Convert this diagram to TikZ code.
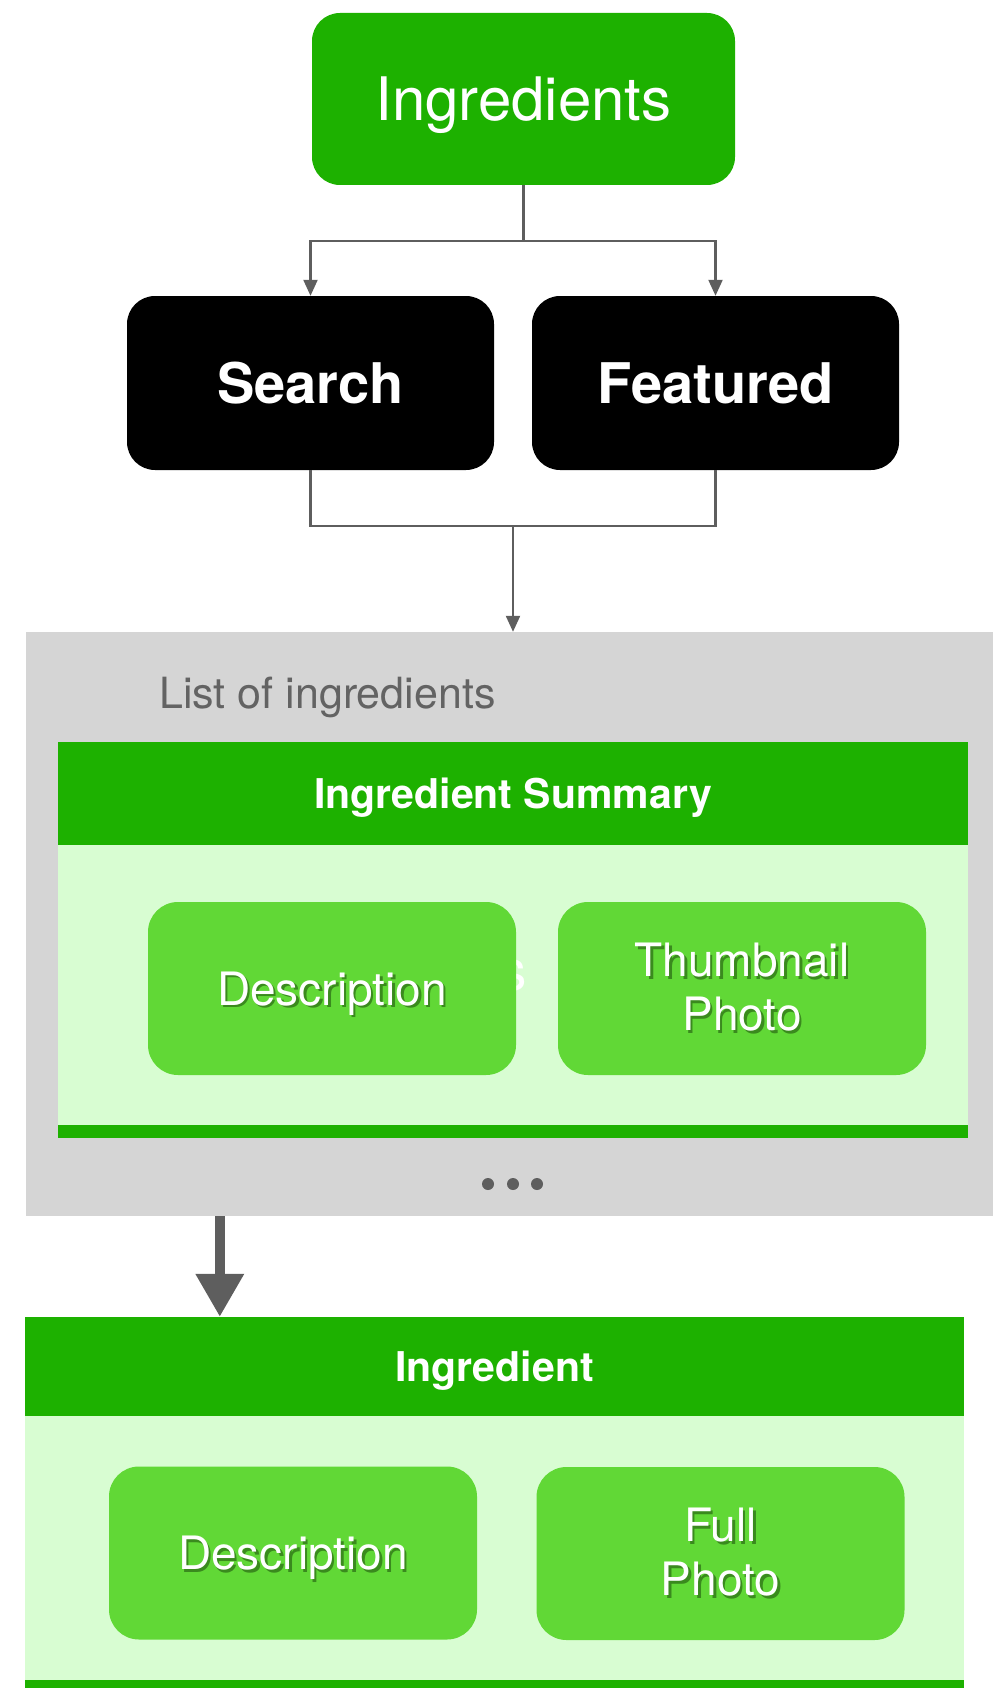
\documentclass[tikz,border=0pt]{standalone}
\usepackage{fontspec}
\setmainfont{TeX Gyre Heros}
\usetikzlibrary{arrows.meta,calc}
\definecolor{topgreen}{HTML}{1DB100}
\definecolor{lightgreen}{HTML}{D8FDD2}
\definecolor{boxgreen}{HTML}{61D836}
\definecolor{panelgrey}{HTML}{D5D5D5}
\definecolor{linegrey}{HTML}{5E5E5E}
\definecolor{labelgrey}{HTML}{636363}
\definecolor{shadowgreen}{HTML}{3A8A1E}
\newcommand{\fsz}[2]{\fontsize{#1}{#2}\selectfont}
\newcommand{\shd}[1]{\makebox[0pt][l]{\raisebox{-2.5pt}{\hspace{2.5pt}\textcolor{shadowgreen}{#1}}}#1}
\tikzset{
  topbox/.style={rectangle, rounded corners=28pt, fill=topgreen, text=white, inner sep=0pt,
    minimum width=423pt, minimum height=172pt, font=\fsz{60}{60}, text depth=0pt},
  blackbox/.style={rectangle, rounded corners=28pt, fill=black, text=white, inner sep=0pt,
    minimum width=367pt, minimum height=174pt, font=\bfseries\fsz{56}{56}},
  panel/.style={rectangle, fill=panelgrey, inner sep=0pt},
  hdr/.style={rectangle, fill=topgreen, text=white, inner sep=0pt, font=\bfseries\fsz{41}{41}, text depth=0pt},
  bodybox/.style={rectangle, fill=lightgreen, inner sep=0pt},
  barbox/.style={rectangle, fill=topgreen, inner sep=0pt},
  itembox/.style={rectangle, rounded corners=30pt, fill=boxgreen, text=white, inner sep=0pt,
    minimum width=368pt, minimum height=173pt, font=\fsz{46}{54}, align=center},
  plainline/.style={draw=linegrey, line width=2.2pt},
  conn/.style={draw=linegrey, line width=2.2pt, -{Triangle[length=16pt,width=14pt]}},
  bigarrow/.style={draw=linegrey, line width=10pt, -{Triangle[length=43pt,width=46pt]}},
  dot/.style={circle, fill=linegrey, inner sep=0pt, minimum size=12pt},
}
\begin{document}
\begin{tikzpicture}[x=1pt,y=-1pt]
\useasboundingbox (0,0) rectangle (993,1688);

% top
\node[topbox] (ingr) at (523.5,99) {Ingredients};
\node[blackbox] (search) at (310.5,383) {Search};
\node[blackbox] (featured) at (715.5,383) {Featured};

\coordinate (split) at (523.5,241);
\coordinate (merge) at (513,526);

\draw[plainline] (ingr.south) -- (split);
\draw[conn] (split) -| (search.north);
\draw[conn] (split) -| (featured.north);

% list panel
\node[panel, minimum width=967pt, minimum height=584pt] (panel) at (509.5,924) {};
\node[anchor=base west, text=labelgrey, font=\fsz{43}{43}, inner sep=0pt] (listlabel) at (159,708) {List of ingredients};

\draw[plainline] (search.south) -- (search.south |- merge) -- (featured.south |- merge) -- (featured.south);
\draw[conn] (merge) -- (merge |- panel.north);

\node[hdr, minimum width=910pt, minimum height=103pt] (shdr) at (513,793.5) {Ingredient Summary};
\node[bodybox, minimum width=910pt, minimum height=280pt] (sbody) at (513,985) {};
\node[barbox, minimum width=910pt, minimum height=13pt] (sbar) at (513,1131.5) {};

\node[anchor=base east, text=white, font=\fsz{57}{57}, inner sep=0pt] (hiddens) at (527,990) {s};

\node[itembox, text depth=0pt] (desc1) at (332,988.5) {\shd{Description}};
\node[itembox] (thumb) at (742,988.5) {\shd{Thumbnail}\\\shd{Photo}};

\node[dot] (dot1) at (488,1184) {};
\node[dot] (dot2) at (513,1184) {};
\node[dot] (dot3) at (537,1184) {};

% ingredient detail
\node[hdr, minimum width=939pt, minimum height=99pt] (ihdr) at (494.5,1366.5) {Ingredient};
\node[bodybox, minimum width=939pt, minimum height=264pt] (ibody) at (494.5,1548) {};
\node[barbox, minimum width=939pt, minimum height=12pt] (ibar) at (494.5,1686) {};

\node[itembox, text depth=0pt] (desc2) at (293,1553) {\shd{Description}};
\node[itembox] (full) at (720.5,1553.5) {\shd{Full}\\\shd{Photo}};

\draw[bigarrow] ($(panel.south west)+(194,0)$) -- ($(ihdr.north west)+(195,0)$);
\end{tikzpicture}
\end{document}
